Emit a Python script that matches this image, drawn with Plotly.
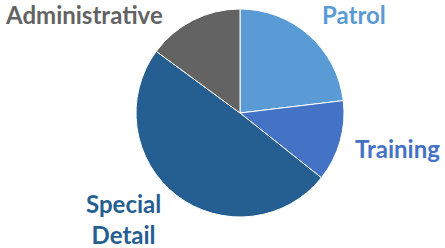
import plotly.graph_objects as go

labels = ["Patrol", "Training", "Special Detail", "Administrative"]
values = [23.1, 12.6, 49.4, 14.9]
colors = ["#5B9BD5", "#4472C4", "#255E91", "#636363"]
label_texts = ["Patrol", "Training", "Special<br>Detail", "Administrative"]

W, H = 445, 248
cx, cy, r = 240, 113, 104

fig = go.Figure(go.Pie(
    labels=labels, values=values, sort=False, direction="clockwise", rotation=0,
    marker=dict(colors=colors, line=dict(color="white", width=1)),
    textinfo="none", hoverinfo="label+percent", showlegend=False,
    domain=dict(x=[(cx - r) / W, (cx + r) / W], y=[(H - cy - r) / H, (H - cy + r) / H]),
))

# (x center px, y px, anchor, yshift)
label_pos = [(354, 0, "top", 2), (397, 148, "middle", 0), (123, 219, "middle", 0), (84, 0, "top", 2)]
for txt, col, (x, y, anc, ys) in zip(label_texts, colors, label_pos):
    fig.add_annotation(x=x / W, y=1 - y / H, xref="paper", yref="paper", text=txt,
                       showarrow=False, xanchor="center", yanchor=anc, yshift=ys,
                       font=dict(family="Lato", size=24, color=col, weight="bold"))

fig.update_layout(width=W, height=H, margin=dict(l=0, r=0, t=0, b=0),
                  paper_bgcolor="white", plot_bgcolor="white")
fig.write_html("out.html", config={"displayModeBar": False},
               post_script="document.body.style.margin='0';")
